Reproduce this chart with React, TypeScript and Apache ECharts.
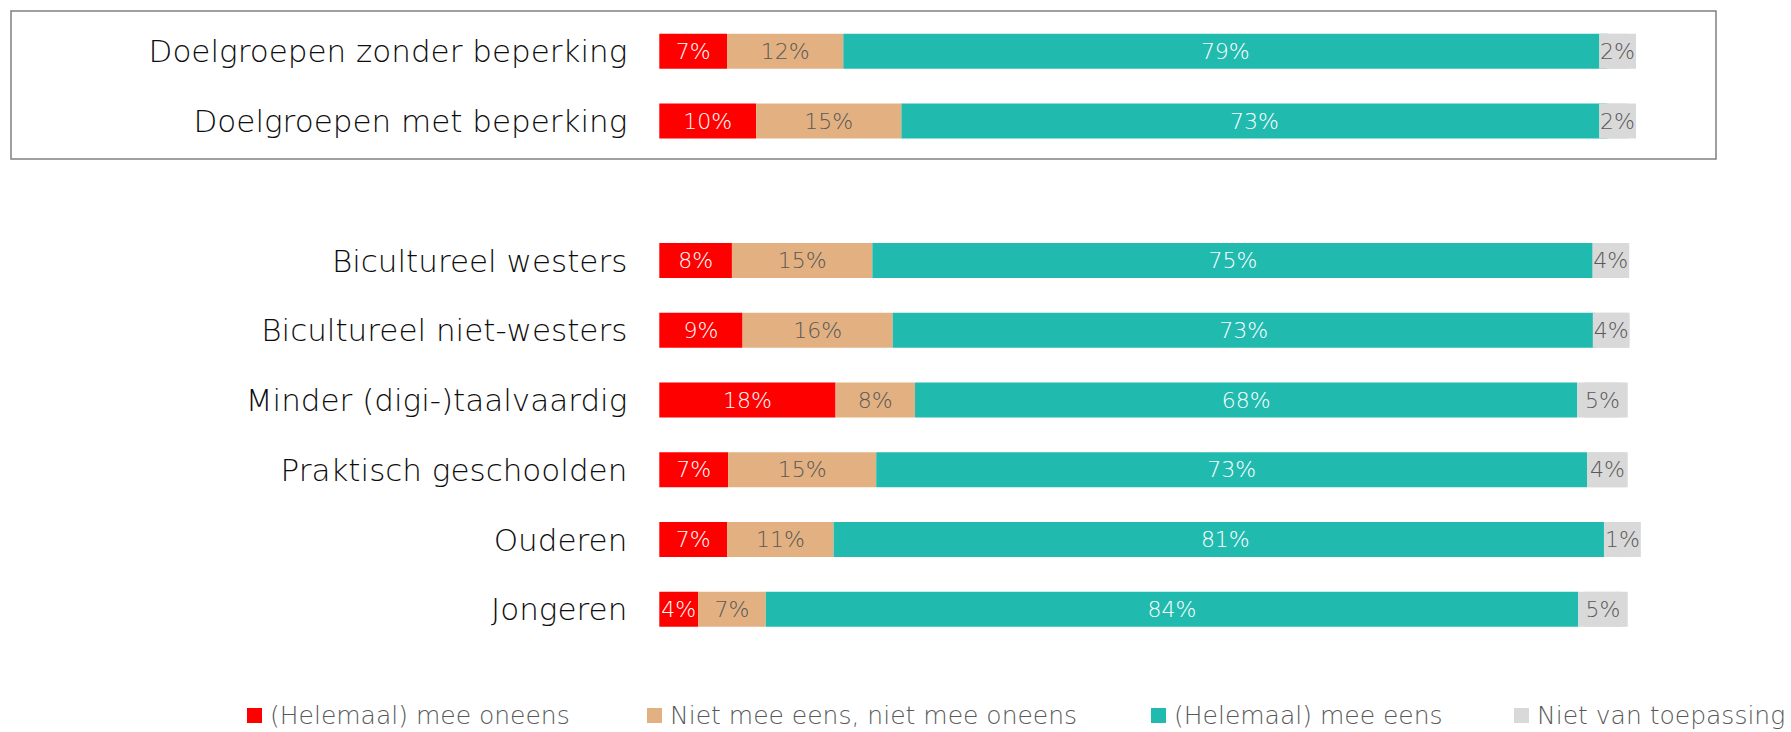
import React, { useEffect, useRef } from "react";
import * as echarts from "echarts";

const categories = [
  "Doelgroepen zonder beperking",
  "Doelgroepen met beperking",
  "",
  "Bicultureel westers",
  "Bicultureel niet-westers",
  "Minder (digi-)taalvaardig",
  "Praktisch geschoolden",
  "Ouderen",
  "Jongeren",
];

const seriesNames = [
  "(Helemaal) mee oneens",
  "Niet mee eens, niet mee oneens",
  "(Helemaal) mee eens",
  "Niet van toepassing",
];

const oneens = [7.0, 10.0, null, 7.5, 8.6, 18.2, 7.1, 7.0, 4.0];
const neutraal = [12.0, 15.0, null, 14.5, 15.5, 8.2, 15.3, 11.0, 7.0];
const eens = [78.9, 72.9, null, 74.5, 72.5, 68.4, 73.4, 80.9, 83.9];
const nvt = [2.1, 2.1, null, 3.5, 3.5, 5.2, 4.2, 1.1, 5.1];

const colors = ["#FF0000", "#E3B181", "#21BAAF", "#D9D9D9"];
const labelColors = ["#FFFFFF", "#595959", "#FFFFFF", "#595959"];
const legendLefts = [247, 647, 1151, 1514];

const FONT = "'DejaVu Sans', sans-serif";

export default function App() {
  const ref = useRef<HTMLDivElement>(null);

  useEffect(() => {
    if (!ref.current) return;
    const chart = echarts.init(ref.current, undefined, { renderer: "svg" });
    const values = [oneens, neutraal, eens, nvt];

    const series = values.map((data, i) => ({
      name: seriesNames[i],
      type: "bar",
      stack: "total",
      barWidth: 35,
      data,
      itemStyle: { color: colors[i] },
      label: {
        show: true,
        position: "inside",
        formatter: (p: any) => (p.value == null ? "" : Math.round(p.value) + "%"),
        color: labelColors[i],
        fontFamily: FONT,
        fontWeight: 200,
        fontSize: 22,
        ...(i === 3
          ? { backgroundColor: "#D9D9D9", padding: [6, 1, 5, 1], lineHeight: 24 }
          : {}),
      },
    }));

    const legends = seriesNames.map((name, i) => ({
      data: [name],
      left: legendLefts[i],
      top: 703,
      padding: 0,
      orient: "horizontal",
      icon: "rect",
      itemWidth: 15,
      itemHeight: 15,
      itemGap: 0,
      selectedMode: false,
      textStyle: {
        color: "#595959",
        fontFamily: FONT,
        fontWeight: 200,
        fontSize: 25,
        padding: [0, 0, 0, 3],
      },
    }));

    chart.setOption({
      animation: false,
      color: colors,
      grid: { left: 659.3, right: 163.3, top: 16.4, bottom: 87.8, containLabel: false },
      xAxis: { type: "value", min: 0, max: 100, show: false },
      yAxis: {
        type: "category",
        data: categories,
        inverse: true,
        axisLine: { show: false },
        axisTick: { show: false },
        axisLabel: {
          color: "#0D0D0D",
          fontFamily: FONT,
          fontWeight: 200,
          fontSize: 31,
          margin: 32,
        },
      },
      legend: legends,
      graphic: [
        {
          type: "rect",
          shape: { x: 11, y: 11, width: 1705, height: 148 },
          style: { fill: "none", stroke: "#808080", lineWidth: 1.5 },
          silent: true,
        },
      ],
      series,
    });

    return () => chart.dispose();
  }, []);

  return (
    <div
      ref={ref}
      style={{ position: "fixed", left: 0, top: 0, width: 1791, height: 732, background: "#fff" }}
    />
  );
}
